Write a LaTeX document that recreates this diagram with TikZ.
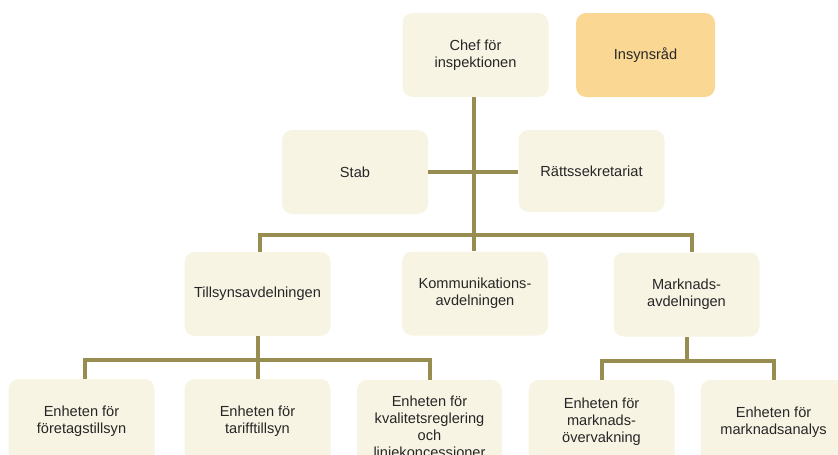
\documentclass[tikz,border=0pt]{standalone}
\usepackage{fontspec}
\setmainfont{Liberation Sans}
\definecolor{boxfill}{RGB}{248,244,228}
\definecolor{insyn}{RGB}{250,216,148}
\definecolor{linecol}{RGB}{152,141,80}
\begin{document}
\begin{tikzpicture}[x=1pt,y=-1pt,
  orgbox/.style={fill=boxfill,draw=none,rounded corners=10pt,minimum width=146pt,minimum height=84pt,
    align=center,inner sep=2pt,font=\fontsize{14.6}{17}\selectfont,text=black!85},
  conn/.style={draw=linecol,line width=4pt}]
\useasboundingbox (0,0) rectangle (838,455);
\clip (0,0) rectangle (838,455);
\node[orgbox] (chef) at (475.5,55) {Chef för\\inspektionen};
\node[orgbox,fill=insyn,minimum width=139pt] (insyn) at (645.5,55) {Insynsråd};
\node[orgbox] (stab) at (355,172) {Stab};
\node[orgbox,minimum height=82pt] (ratt) at (591.5,171) {Rättssekretariat};
\node[orgbox] (tills) at (257.5,294) {Tillsynsavdelningen};
\node[orgbox] (komm) at (475,293.5) {Kommunikations-\\avdelningen};
\node[orgbox] (markn) at (686.5,294.5) {Marknads-\\avdelningen};
\node[orgbox] (foret) at (81.5,421) {Enheten för\\företagstillsyn};
\node[orgbox] (tarif) at (257.5,421) {Enheten för\\tarifftillsyn};
\node[orgbox,minimum width=145pt,inner sep=0pt] (kval) at (429.5,422) {\parbox[c][84pt][t]{145pt}{\vspace*{16pt}\centering Enheten för\\kvalitetsreglering\\och\\linjekoncessioner}};
\node[orgbox] (mover) at (601.5,422) {Enheten för\\marknads-\\övervakning};
\node[orgbox] (manal) at (773.5,422) {Enheten för\\marknadsanalys};
\coordinate (bus) at (474,235);
\draw[conn] (chef.south -| bus) -- (bus);
\draw[conn] (stab.east) -- (ratt.west |- stab.east);
\draw[conn] (tills.north -| 260,0) -- (260,235) -| (markn.north -| 692,0);
\draw[conn] (bus) -- (komm.north -| bus);
\draw[conn] (tills.south) -- (tarif.north);
\draw[conn] (foret.north -| 85,0) -- (85,360) -| (kval.north -| 430,0);
\draw[conn] (markn.south) -- ++(0,24) coordinate (mb);
\draw[conn] (mover.north) |- (mb) -| (manal.north);
\end{tikzpicture}
\end{document}
